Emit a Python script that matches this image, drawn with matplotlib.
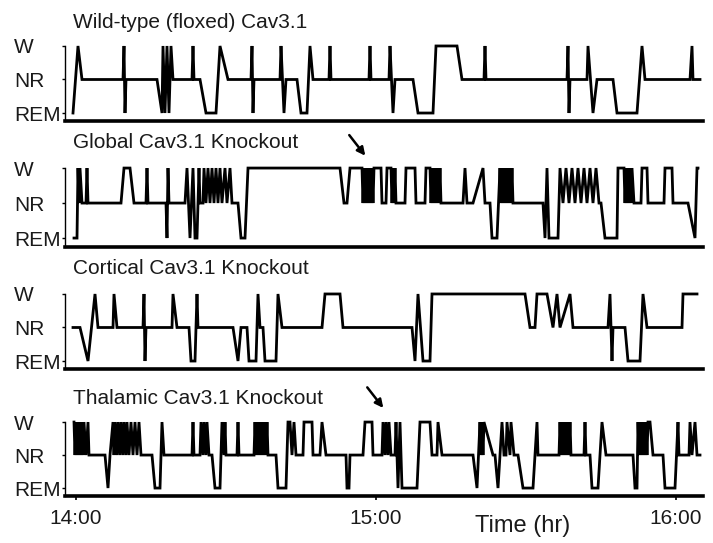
import matplotlib
matplotlib.use("Agg")
import matplotlib.pyplot as plt

plt.rcParams['font.family'] = ['Liberation Sans', 'DejaVu Sans']

# stage levels: 0 = REM, 1 = NR, 2 = W ; times in minutes after 14:00
stage_labels = ['REM', 'NR', 'W']
time_ticks = [0, 60, 120]
time_labels = ['14:00', '15:00', '16:00']
panel_titles = ['Wild-type (floxed) Cav3.1', 'Global Cav3.1 Knockout',
                'Cortical Cav3.1 Knockout', 'Thalamic Cav3.1 Knockout']

wt_trace = [
    (-0.6, 0), (0.4, 2), (1.2, 1), (9.4, 1), (9.6, 2), (9.8, 0), (10, 1),
    (16.2, 1), (17.2, 0), (17.4, 2), (17.8, 0), (18.2, 2), (18.6, 0), (19, 2), (19.4, 1),
    (23.2, 1), (23.4, 2), (23.6, 1), (24.8, 1), (26, 0), (28, 0), (28.8, 2), (30.4, 1),
    (35, 1), (35.2, 2), (35.4, 0), (35.6, 1), (40.8, 1), (41, 2), (41.6, 0), (42, 1),
    (44.2, 1), (45, 0), (46.2, 0), (46.8, 2), (47.4, 1), (50.6, 1), (50.8, 2), (51, 1),
    (58.6, 1), (58.8, 2), (59, 1), (62.6, 1), (62.8, 2), (63.4, 0), (63.8, 1),
    (67.4, 1), (68.4, 0), (71.4, 0), (72, 2), (76.2, 2), (77.2, 1),
    (81.6, 1), (81.8, 2), (82, 1), (98.2, 1), (98.4, 2), (98.6, 0), (98.8, 1),
    (102.2, 1), (102.4, 2), (103.4, 0), (104.2, 1), (107.4, 1), (108.2, 0), (112.2, 0),
    (113.2, 2), (113.8, 1), (122.8, 1), (123.2, 2), (123.4, 1), (124.8, 1),
]

global_trace = [
    (-0.4, 0), (0.2, 0), (0.4, 2), (0.6, 1), (0.8, 2), (1.2, 1), (2, 1), (2.2, 2), (2.4, 1),
    (9, 1), (9.6, 2), (10.8, 2), (11.6, 1), (14, 1), (14.2, 2), (14.4, 1),
    (18, 1), (18.2, 0), (18.4, 2), (18.6, 1), (21.8, 1), (22.2, 2), (22.8, 0), (23.4, 2),
    (23.8, 0), (24.2, 0), (24.6, 2), (24.8, 1), (25.4, 1), (25.6, 2), (26, 1), (26.4, 2),
    (26.8, 1), (27.2, 2), (27.6, 1), (28, 2), (28.4, 1), (28.8, 2), (29.2, 1), (29.8, 2),
    (30.2, 1), (30.8, 2), (31.2, 1), (32.4, 1), (33, 0), (33.8, 0), (34.4, 2),
    (52.8, 2), (53.6, 1), (54.2, 1), (54.8, 2), (57.2, 2), (57.4, 1), (57.6, 2), (57.8, 1),
    (58, 2), (58.2, 1), (58.4, 2), (58.6, 1), (58.8, 2), (59, 1), (59.2, 2), (59.4, 1),
    (59.6, 2), (61, 2), (61.2, 1), (62, 1), (62.2, 2), (63, 2), (63.2, 1), (63.4, 2),
    (63.6, 1), (63.8, 2), (64, 1), (65.8, 1), (66, 2), (67.8, 2), (68, 1), (69.8, 1),
    (70, 2), (70.8, 2), (71, 1), (71.2, 2), (71.4, 1), (71.6, 2), (71.8, 1), (72, 2),
    (72.2, 1), (72.4, 2), (72.6, 1), (72.8, 2), (73, 1), (77.4, 1), (77.8, 2), (78.2, 1),
    (79.4, 1), (81.4, 2), (81.8, 1), (82.8, 1), (83.2, 0), (84.2, 0), (84.8, 2),
    (85, 1), (85.2, 2), (85.4, 1), (85.6, 2), (85.8, 1), (86, 2), (86.2, 1), (86.4, 2),
    (86.6, 1), (86.8, 2), (87, 1), (87.2, 2), (87.4, 1), (93.4, 1), (93.8, 0), (94.2, 2),
    (94.6, 0), (96.4, 0), (96.8, 2), (97.4, 1), (98, 2), (98.6, 1), (99.2, 2), (99.8, 1),
    (100.4, 2), (101, 1), (101.6, 2), (102.2, 1), (102.8, 2), (103.4, 1), (104, 2),
    (104.6, 1), (105, 1), (105.8, 0), (108.2, 0), (108.4, 2), (109.6, 2), (109.8, 1),
    (110, 2), (110.2, 1), (110.4, 2), (110.6, 1), (110.8, 2), (111, 1), (111.2, 2),
    (111.6, 1), (113, 1), (113.2, 2), (114.2, 2), (114.4, 1), (117.6, 1), (117.8, 2),
    (119.2, 2), (119.4, 1), (122.4, 1), (123.8, 0), (124.2, 2), (124.4, 2),
]

cortical_trace = [
    (-0.6, 1), (0.8, 1), (2.4, 0), (3.8, 2), (4.4, 1), (7.4, 1), (7.6, 2), (8.2, 1),
    (13.4, 1), (13.6, 2), (13.8, 0), (14, 1), (19.2, 1), (19.4, 2), (20.2, 1),
    (22.6, 1), (23, 0), (23.8, 0), (24.2, 2), (24.4, 1), (31.4, 1), (32.4, 0), (33, 1),
    (34.2, 1), (34.6, 0), (36, 0), (36.4, 2), (36.8, 1), (37.4, 1), (37.8, 0), (40, 0),
    (40.4, 2), (41.2, 1), (49.2, 1), (49.8, 2), (52.8, 2), (53.4, 1),
    (67.2, 1), (67.8, 0), (68.4, 2), (69.4, 0), (70.8, 0), (71.2, 2), (89.8, 2), (90.8, 1),
    (91.8, 1), (92.2, 2), (94.2, 2), (95.4, 1), (96.2, 2), (96.8, 1), (98.8, 2), (99.4, 1),
    (106.4, 1), (106.8, 2), (107.2, 0), (107.4, 1), (109.8, 1), (110.4, 0), (112.8, 0),
    (113.4, 2), (114.2, 1), (121.2, 1), (121.4, 2), (124.2, 2),
]

thalamic_trace = [
    (-0.4, 2), (-0.2, 1), (0, 2), (0.2, 1), (0.4, 2), (0.6, 1), (0.8, 2), (1, 1), (1.2, 2),
    (1.4, 1), (1.6, 2), (2, 1), (2.4, 2), (2.6, 1), (5.8, 1), (6.4, 0), (6.8, 1), (7.4, 2),
    (7.6, 1), (7.8, 2), (8.2, 1), (8.4, 2), (8.8, 1), (9, 2), (9.4, 1), (9.6, 2), (10, 1),
    (10.2, 2), (10.6, 1), (11, 2), (11.4, 1), (11.8, 2), (12.2, 1), (12.6, 2), (13, 1),
    (15.2, 1), (15.8, 0), (16.8, 0), (17.2, 2), (17.6, 1), (23.2, 1), (23.4, 2), (23.6, 1),
    (24.8, 1), (25, 2), (25.4, 1), (25.6, 2), (26, 1), (26.2, 2), (26.6, 1), (27.2, 1),
    (27.8, 0), (28.8, 0), (29.2, 2), (29.6, 1), (29.8, 2), (30, 1), (32.2, 1), (32.4, 2),
    (32.6, 1), (35.6, 1), (35.8, 2), (36, 1), (36.2, 2), (36.4, 1), (36.6, 2), (36.8, 1),
    (37, 2), (37.2, 1), (37.4, 2), (37.6, 1), (37.8, 2), (38, 1), (38.2, 2), (38.4, 1),
    (40, 1), (40.4, 0), (42, 0), (42.4, 2), (42.8, 2), (43.2, 1), (43.6, 2), (44, 1),
    (45.4, 1), (45.6, 2), (47.2, 2), (47.4, 1), (48.8, 1), (49.2, 2), (50, 1),
    (54, 1), (54.2, 0), (54.6, 0), (54.8, 1), (57.4, 1), (57.8, 2), (59.2, 2), (59.4, 1),
    (61.2, 1), (61.4, 2), (61.8, 1), (62, 2), (62.4, 1), (62.6, 2), (63, 1), (63.8, 1),
    (64, 2), (64.4, 0), (64.8, 2), (65.2, 0), (68.2, 0), (68.8, 2), (70.8, 2), (71.2, 1),
    (72.2, 1), (72.4, 2), (73.2, 1), (79.4, 1), (80.2, 0), (80.8, 2), (81, 1), (81.2, 2),
    (81.4, 1), (81.6, 2), (83.4, 1), (83.8, 1), (84.4, 0), (85.2, 2), (85.6, 1), (86, 1),
    (86.2, 2), (86.8, 1), (87, 2), (87.6, 1), (88.4, 1), (89.4, 0), (91.4, 0), (92.2, 2),
    (92.4, 1), (96.6, 1), (96.8, 2), (97, 1), (97.2, 2), (97.4, 1), (97.6, 2), (97.8, 1),
    (98, 2), (98.2, 1), (98.4, 2), (98.6, 1), (98.8, 2), (99, 1), (101.6, 1), (101.8, 2),
    (102, 1), (102.8, 1), (103.2, 0), (104.4, 0), (105.2, 2), (106, 1), (111.4, 1),
    (111.8, 0), (112.2, 0), (112.4, 2), (112.6, 1), (112.8, 2), (113, 1), (113.2, 2),
    (113.4, 1), (113.6, 2), (113.8, 1), (114, 2), (114.2, 1), (114.4, 2), (114.8, 2),
    (115.4, 1), (117.4, 1), (117.8, 0), (119.8, 0), (120.4, 2), (120.6, 1), (122.6, 1),
    (122.8, 2), (123.2, 1), (123.8, 2), (124.2, 1), (124.8, 1),
]

traces = [wt_trace, global_trace, cortical_trace, thalamic_trace]

# arrow heads (time, level) pointing at bursts
arrow_tips = {1: (58.2, 2.29), 3: (61.8, 2.36)}

W, H = 713, 543
fig = plt.figure(figsize=(W / 100, H / 100), dpi=100)

# panel rectangles in pixels: (top, bottom)
rects_px = [(44.3, 121.4), (166.3, 246.8), (292.3, 369.4), (420.4, 496.3)]
title_y_px = [22, 143, 268, 398]
left_px, right_px = 65, 703
text_col = '#1a1a1a'

axes = []
for i, (top, bot) in enumerate(rects_px):
    ax = fig.add_axes([left_px / W, 1 - bot / H, (right_px - left_px) / W, (bot - top) / H])
    t = [p[0] for p in traces[i]]
    s = [p[1] for p in traces[i]]
    ax.plot(t, s, color='black', lw=2.0, solid_joinstyle='miter', clip_on=False)
    ax.set_xlim(-2.2, 125.4)
    ax.set_ylim(-0.25, 2.05)
    for side in ['top', 'right']:
        ax.spines[side].set_visible(False)
    ax.spines['bottom'].set_linewidth(2.6)
    ax.spines['left'].set_linewidth(1.0)
    ax.spines['left'].set_bounds(-0.25, 2.0)
    ax.set_yticks([0, 1, 2])
    ax.set_yticklabels(stage_labels, fontsize=15, color=text_col)
    for lab in ax.get_yticklabels():
        lab.set_horizontalalignment('left')
    ax.tick_params(axis='y', direction='out', length=2.5, width=1, pad=34)
    if i < 3:
        ax.set_xticks([])
    else:
        ax.set_xticks(time_ticks)
        ax.set_xticklabels(time_labels, fontsize=15, color=text_col)
        ax.tick_params(axis='x', direction='out', length=3, width=1.2, pad=6)
        ax.set_xlabel('Time (hr)', fontsize=17, color=text_col)
        ax.xaxis.set_label_coords((523 - left_px) / (right_px - left_px), -0.24)
    fig.text(73 / W, 1 - title_y_px[i] / H, panel_titles[i], fontsize=15,
             color=text_col, va='center', ha='left')
    if i in arrow_tips:
        ax.annotate('', xy=arrow_tips[i], xytext=(-14, 18), textcoords='offset points',
                    arrowprops=dict(arrowstyle='-|>', lw=1.8, color='black', mutation_scale=12),
                    annotation_clip=False)
    axes.append(ax)

fig.savefig('out.png', dpi=100)
